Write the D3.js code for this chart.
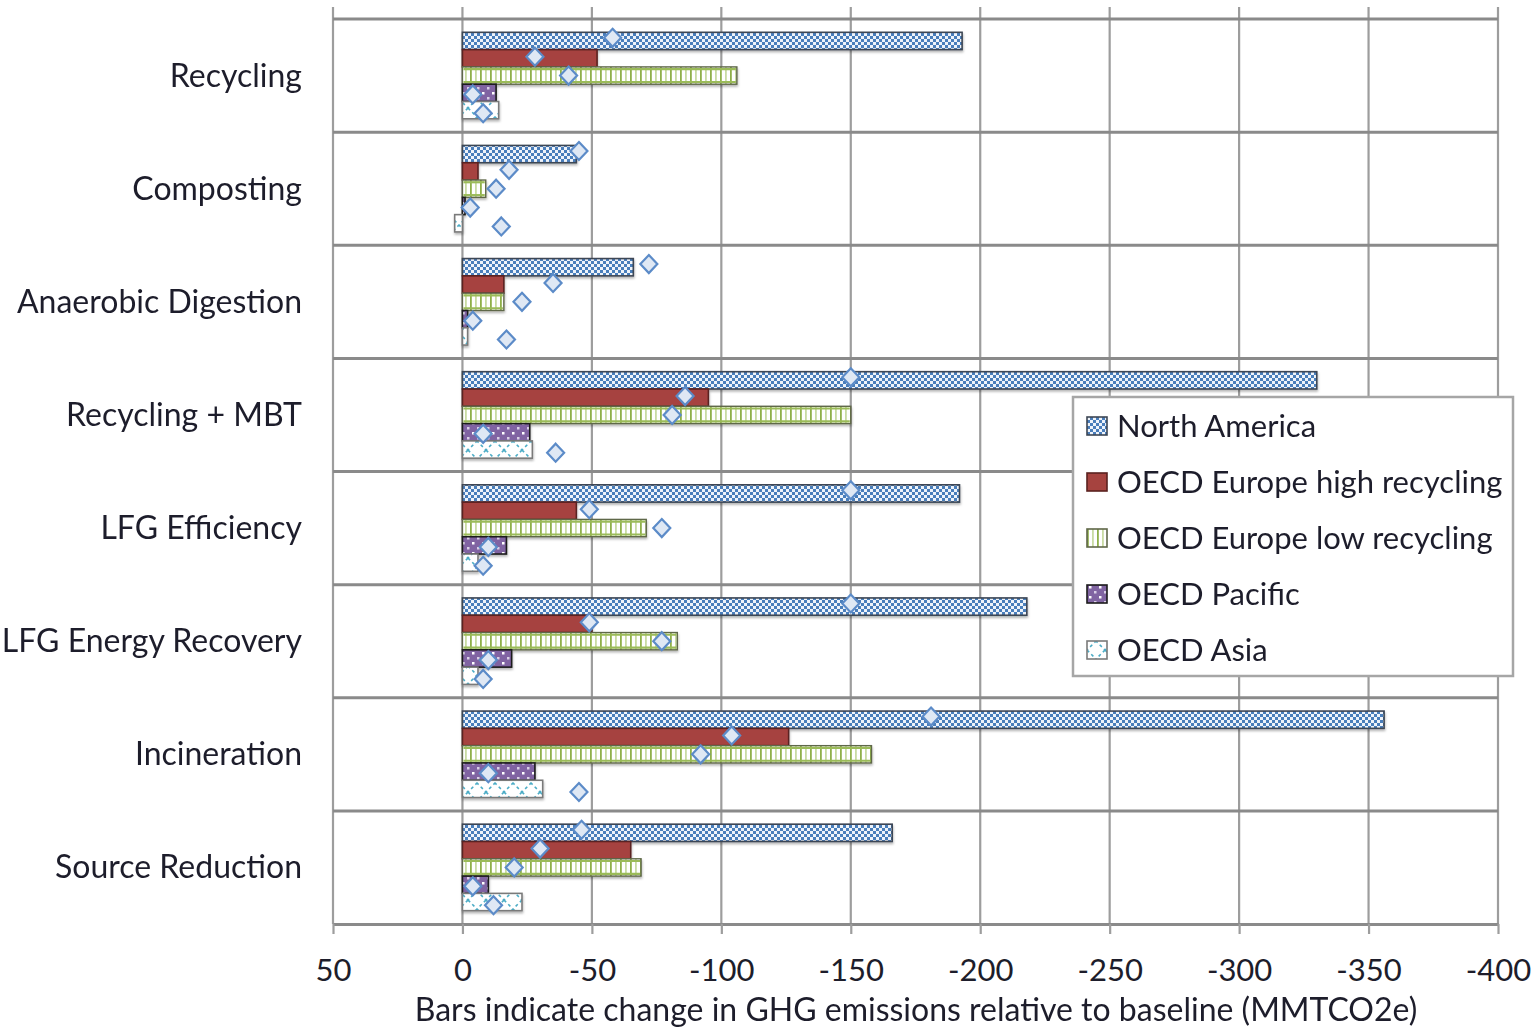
<!DOCTYPE html>
<html>
<head>
<meta charset="utf-8">
<script src="https://cdn.jsdelivr.net/npm/d3@7"></script>
<style>
  html, body { margin: 0; padding: 0; background: #ffffff; }
  svg { display: block; }
  text { font-family: Lato, "Open Sans", sans-serif; fill: #1d1d2b; }
</style>
</head>
<body>
<svg id="chart" width="1536" height="1029"></svg>
<script>
// Scenario categories (top to bottom)
const categories = [
  "Recycling", "Composting", "Anaerobic Digestion", "Recycling + MBT",
  "LFG Efficiency", "LFG Energy Recovery", "Incineration", "Source Reduction"
];

// Regions (bar series, drawn top to bottom within each category)
const seriesNames = [
  "North America", "OECD Europe high recycling", "OECD Europe low recycling",
  "OECD Pacific", "OECD Asia"
];

// Bars: change in GHG emissions relative to baseline (MMTCO2e)
const northAmerica = [-193, -44, -66, -330, -192, -218, -356, -166];
const europeHigh   = [-52,  -6,  -16, -95,  -44,  -50,  -126, -65];
const europeLow    = [-106, -9,  -16, -150, -71,  -83,  -158, -69];
const pacific      = [-13,  -1,  -2,  -26,  -17,  -19,  -28,  -10];
const asia         = [-14,   3,  -2,  -27,  -6,   -6,   -31,  -23];

// Diamond markers for each region and category (MMTCO2e)
const northAmericaMarker = [-58, -45, -72, -150, -150, -150, -181, -46];
const europeHighMarker   = [-28, -18, -35, -86,  -49,  -49,  -104, -30];
const europeLowMarker    = [-41, -13, -23, -81,  -77,  -77,  -92,  -20];
const pacificMarker      = [-4,  -3,  -4,  -8,   -10,  -10,  -10,  -4];
const asiaMarker         = [-8,  -15, -17, -36,  -8,   -8,   -45,  -12];

// Value axis ticks
const tickValues = [50, 0, -50, -100, -150, -200, -250, -300, -350, -400];
const tickLabels = ["50", "0", "-50", "-100", "-150", "-200", "-250", "-300", "-350", "-400"];

const axisTitle = "Bars indicate change in GHG emissions relative to baseline (MMTCO2e)";

const barValues = [northAmerica, europeHigh, europeLow, pacific, asia];
const markerValues = [northAmericaMarker, europeHighMarker, europeLowMarker, pacificMarker, asiaMarker];

// ---------------------------------------------------------------------------
const svg = d3.select("#chart");
const plot = { left: 333, right: 1498, top: 19, bottom: 924 };

const x = d3.scaleLinear().domain([50, -400]).range([plot.left, plot.right]);
const y = d3.scaleBand().domain(categories).range([plot.top, plot.bottom]);
const ySeries = d3.scaleBand().domain(seriesNames)
  .range([0, y.bandwidth()]).paddingInner(0).paddingOuter(0.77);
const yMarker = d3.scalePoint().domain(seriesNames)
  .range([0, y.bandwidth()]).padding(1);

// ----- fill patterns -------------------------------------------------------
const defs = svg.append("defs");

const shadow = defs.append("filter").attr("id", "shadow")
  .attr("x", "-5%").attr("y", "-30%").attr("width", "110%").attr("height", "170%");
shadow.append("feDropShadow").attr("dx", 0.5).attr("dy", 2).attr("stdDeviation", 1.2)
  .attr("flood-color", "#000").attr("flood-opacity", 0.28);

const soft = defs.append("filter").attr("id", "soft");
soft.append("feGaussianBlur").attr("stdDeviation", 0.45);

// checkerboard (North America)
const pNA = defs.append("pattern").attr("id", "pat-na")
  .attr("patternUnits", "userSpaceOnUse").attr("width", 6).attr("height", 6);
pNA.append("rect").attr("width", 6).attr("height", 6).attr("fill", "#eef3fa");
pNA.append("rect").attr("width", 3).attr("height", 3).attr("fill", "#4a7ebb");
pNA.append("rect").attr("x", 3).attr("y", 3).attr("width", 3).attr("height", 3).attr("fill", "#4a7ebb");

// vertical ladder (Europe low recycling)
const pEL = defs.append("pattern").attr("id", "pat-el")
  .attr("patternUnits", "userSpaceOnUse").attr("width", 10).attr("height", 10);
pEL.append("rect").attr("width", 10).attr("height", 10).attr("fill", "#ffffff");
pEL.append("rect").attr("x", 0).attr("width", 1.8).attr("height", 10).attr("fill", "#8fb04a");
pEL.append("rect").attr("x", 5).attr("width", 1.8).attr("height", 10).attr("fill", "#c9dba3");

// dotted purple (Pacific)
const pPA = defs.append("pattern").attr("id", "pat-pa")
  .attr("patternUnits", "userSpaceOnUse").attr("width", 10).attr("height", 10);
pPA.append("rect").attr("width", 10).attr("height", 10).attr("fill", "#8064a2");
pPA.append("rect").attr("x", 2).attr("y", 2).attr("width", 2.5).attr("height", 2.5).attr("fill", "#ffffff");
pPA.append("rect").attr("x", 7).attr("y", 7).attr("width", 2.5).attr("height", 2.5).attr("fill", "#d9cfe6");

// trellis (Asia)
const pAS = defs.append("pattern").attr("id", "pat-as")
  .attr("patternUnits", "userSpaceOnUse").attr("width", 18).attr("height", 18);
pAS.append("rect").attr("width", 18).attr("height", 18).attr("fill", "#ffffff");
pAS.append("path").attr("d", "M0,0L18,18M18,0L0,18")
  .attr("stroke", "#4bacc6").attr("stroke-width", 1.6).attr("stroke-dasharray", "3,3")
  .attr("fill", "none");

const styles = [
  { fill: "url(#pat-na)", stroke: "#3d4654", sw: 1.6 },
  { fill: "#a6433f",      stroke: "#5a2220", sw: 1.6 },
  { fill: "url(#pat-el)", stroke: "#5f6748", sw: 1.4, inner: "#9bbb59" },
  { fill: "url(#pat-pa)", stroke: "#1b1b1b", sw: 1.6 },
  { fill: "url(#pat-as)", stroke: "#7a7a7a", sw: 1.6 }
];

// ----- grid ----------------------------------------------------------------
const grid = svg.append("g");
grid.selectAll("line.v").data(tickValues).join("line")
  .attr("x1", d => x(d)).attr("x2", d => x(d))
  .attr("y1", 7).attr("y2", plot.bottom)
  .attr("stroke", "#9d9d9d").attr("stroke-width", 2.2);

const bandEdges = categories.map(c => y(c));
grid.selectAll("line.h").data(bandEdges).join("line")
  .attr("x1", plot.left).attr("x2", plot.right)
  .attr("y1", d => d).attr("y2", d => d)
  .attr("stroke", "#8a8a8a").attr("stroke-width", 3);

// ----- bars ----------------------------------------------------------------
const rows = [];
categories.forEach((cat, ci) => {
  seriesNames.forEach((s, si) => {
    rows.push({ cat, s, si, v: barValues[si][ci], m: markerValues[si][ci] });
  });
});

const bars = svg.append("g").attr("filter", "url(#shadow)");
bars.selectAll("rect").data(rows).join("rect")
  .attr("x", d => Math.min(x(0), x(d.v)))
  .attr("width", d => Math.abs(x(d.v) - x(0)))
  .attr("y", d => y(d.cat) + ySeries(d.s))
  .attr("height", ySeries.bandwidth())
  .attr("fill", d => styles[d.si].fill)
  .attr("stroke", d => styles[d.si].stroke)
  .attr("stroke-width", d => styles[d.si].sw);

// green ladder rails along the top and bottom of the low-recycling bars
const rails = svg.append("g");
rows.filter(d => styles[d.si].inner).forEach(d => {
  const x0 = Math.min(x(0), x(d.v)) + 1, x1 = Math.max(x(0), x(d.v)) - 1;
  const yt = y(d.cat) + ySeries(d.s);
  [yt + 2.2, yt + ySeries.bandwidth() - 2.2].forEach(yy => {
    rails.append("line").attr("x1", x0).attr("x2", x1).attr("y1", yy).attr("y2", yy)
      .attr("stroke", styles[d.si].inner).attr("stroke-width", 2.2);
  });
});

// ----- diamond markers -----------------------------------------------------
svg.append("g").attr("filter", "url(#soft)")
  .selectAll("path").data(rows).join("path")
  .attr("transform", d => `translate(${x(d.m)},${y(d.cat) + yMarker(d.s)})`)
  .attr("d", "M0,-9L8.5,0L0,9L-8.5,0Z")
  .attr("fill", "#dfe8f4").attr("stroke", "#5b8bc8").attr("stroke-width", 2.2);

// ----- value axis ----------------------------------------------------------
const axis = svg.append("g").attr("transform", `translate(0,${plot.bottom})`)
  .call(d3.axisBottom(x).tickValues(tickValues)
    .tickFormat((d, i) => tickLabels[i]).tickSize(10).tickSizeOuter(0));
axis.select(".domain").attr("stroke", "#8a8a8a").attr("stroke-width", 3);
axis.selectAll(".tick line").attr("stroke", "#9d9d9d").attr("stroke-width", 2.2);
axis.selectAll(".tick text")
  .attr("y", 57).attr("dy", 0)
  .style("font-family", "Lato, 'Open Sans', sans-serif")
  .style("font-size", "31px").attr("fill", "#1d1d2b");

svg.append("text")
  .attr("x", 916).attr("y", 1021).attr("text-anchor", "middle")
  .style("font-size", "32px").text(axisTitle);

// ----- category labels -----------------------------------------------------
svg.append("g").selectAll("text").data(categories).join("text")
  .attr("x", 302).attr("y", d => y(d) + y.bandwidth() / 2 + 11)
  .attr("text-anchor", "end").style("font-size", "32px")
  .text(d => d);

// ----- legend --------------------------------------------------------------
const legend = svg.append("g").attr("transform", "translate(1073,397)");
legend.append("rect").attr("width", 440).attr("height", 279)
  .attr("fill", "#ffffff").attr("stroke", "#a6a6a6").attr("stroke-width", 2.5);
const item = legend.selectAll("g.item").data(seriesNames).join("g")
  .attr("transform", (d, i) => `translate(14,${29 + i * 56})`);
item.append("rect").attr("x", 0).attr("y", -9).attr("width", 20).attr("height", 18)
  .attr("fill", (d, i) => styles[i].fill)
  .attr("stroke", (d, i) => styles[i].stroke).attr("stroke-width", 1.6);
item.append("text").attr("x", 30).attr("y", 11).style("font-size", "31px").text(d => d);
</script>
</body>
</html>
